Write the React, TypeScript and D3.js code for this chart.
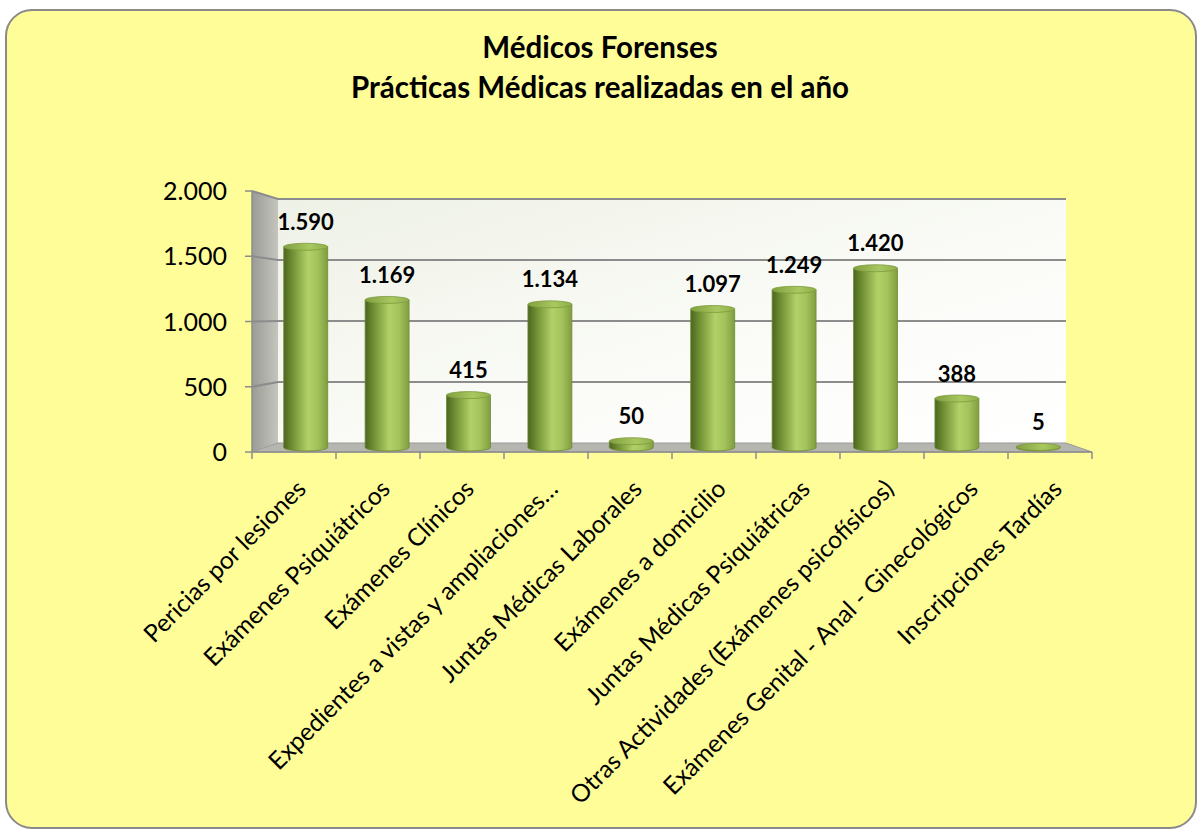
import React from "react";
import * as d3 from "d3";

// chart values
const categories = [
  "Pericias por lesiones",
  "Exámenes Psiquiátricos",
  "Exámenes Clínicos",
  "Expedientes a vistas y ampliaciones…",
  "Juntas Médicas Laborales",
  "Exámenes a domicilio",
  "Juntas Médicas Psiquiátricas",
  "Otras Actividades (Exámenes psicofísicos)",
  "Exámenes Genital - Anal - Ginecológicos",
  "Inscripciones Tardías",
];
const values = [1590, 1169, 415, 1134, 50, 1097, 1249, 1420, 388, 5];
const yTicks = [0, 500, 1000, 1500, 2000];
const titleLines = ["Médicos Forenses", "Prácticas Médicas realizadas en el año"];

const W = 1201;
const H = 830;
const FONT = "Lato, 'Open Sans', sans-serif";

const es = d3.formatLocale({ decimal: ",", thousands: ".", grouping: [3], currency: ["", ""] });
const fmt = es.format(",d");

// front plane and back plane of the 3d box
const front = { x0: 252, x1: 1092, yb: 452, yt: 191 };
const back = { x0: 278, x1: 1066, yb: 443, yt: 199 };
const plane = (t: number) => ({
  x0: front.x0 + (back.x0 - front.x0) * t,
  x1: front.x1 + (back.x1 - front.x1) * t,
  yb: front.yb + (back.yb - front.yb) * t,
  yt: front.yt + (back.yt - front.yt) * t,
});
const mid = plane(0.5);

const yFront = d3.scaleLinear().domain([0, 2000]).range([front.yb, front.yt]);
const yBack = d3.scaleLinear().domain([0, 2000]).range([back.yb, back.yt]);
const yMid = d3.scaleLinear().domain([0, 2000]).range([mid.yb, mid.yt]);
const xFront = d3.scaleBand<string>().domain(categories).range([front.x0, front.x1]);
const xMid = d3.scaleBand<string>().domain(categories).range([mid.x0, mid.x1]).paddingInner(0.46).paddingOuter(0.23);

const Bar = ({ cat, value }: { cat: string; value: number }) => {
  const x = xMid(cat) as number;
  const w = xMid.bandwidth();
  const cx = x + w / 2;
  const rx = w / 2;
  const ry = 3.5;
  const yb = yMid(0);
  const yt = yMid(value);
  return (
    <g>
      <path
        d={`M${x},${yt} L${x},${yb} A${rx},${ry} 0 0 0 ${x + w},${yb} L${x + w},${yt} Z`}
        fill="url(#cyl)"
        stroke="#6f8a35"
        strokeWidth={0.8}
      />
      <ellipse cx={cx} cy={yt} rx={rx} ry={ry} fill="url(#cylTop)" stroke="#7d9a3c" strokeWidth={0.8} />
      <text
        x={cx}
        y={yt - 17}
        textAnchor="middle"
        fontFamily={FONT}
        fontWeight={700}
        fontSize={22}
        fill="#000"
      >
        {fmt(value)}
      </text>
    </g>
  );
};

export default function App() {
  const sidePath = `M${front.x0},${front.yt} L${back.x0},${back.yt} L${back.x0},${back.yb} L${front.x0},${front.yb} Z`;
  const floorPath = `M${front.x0},${front.yb} L${back.x0},${back.yb} L${back.x1},${back.yb} L${front.x1},${front.yb} Z`;
  const xTickPos = categories.map((c) => xFront(c) as number).concat([front.x1]);

  return (
    <svg width={W} height={H} style={{ position: "absolute", left: 0, top: 0 }}>
      <defs>
        <linearGradient id="cyl" x1="0" x2="1" y1="0" y2="0">
          <stop offset="0%" stopColor="#4b6620" />
          <stop offset="18%" stopColor="#6d8c31" />
          <stop offset="55%" stopColor="#b2d168" />
          <stop offset="78%" stopColor="#a3c25b" />
          <stop offset="100%" stopColor="#7f9d3f" />
        </linearGradient>
        <linearGradient id="cylTop" x1="0" x2="1" y1="0" y2="0">
          <stop offset="0%" stopColor="#82a040" />
          <stop offset="60%" stopColor="#a8c860" />
          <stop offset="100%" stopColor="#8fae4a" />
        </linearGradient>
        <linearGradient id="wall" x1="0" x2="1" y1="0" y2="1">
          <stop offset="0%" stopColor="#eef1e6" />
          <stop offset="60%" stopColor="#fbfcf8" />
          <stop offset="100%" stopColor="#ffffff" />
        </linearGradient>
        <linearGradient id="side" x1="0" x2="1" y1="0" y2="0">
          <stop offset="0%" stopColor="#9a9b95" />
          <stop offset="100%" stopColor="#c4c5bd" />
        </linearGradient>
      </defs>

      <rect x={6} y={10} width={1190} height={818} rx={26} ry={26} fill="#fffd98" stroke="#8a8a8a" strokeWidth={2} />

      <g fontFamily={FONT} fontWeight={700} fontSize={29.5} textAnchor="middle" fill="#000">
        {titleLines.map((t, i) => (
          <text key={t} x={600} y={58 + i * 40}>
            {t}
          </text>
        ))}
      </g>

      {/* back wall, side wall, floor */}
      <rect x={back.x0} y={back.yt} width={back.x1 - back.x0} height={back.yb - back.yt} fill="url(#wall)" />
      <path d={sidePath} fill="url(#side)" />
      <path d={floorPath} fill="#b5b6b0" stroke="#9a9a96" strokeWidth={1} />

      {/* gridlines */}
      <g stroke="#8c8c8c" strokeWidth={2} fill="none">
        {yTicks.slice(1).map((v) => (
          <path key={v} d={`M${front.x0},${yFront(v)} L${back.x0},${yBack(v)} L${back.x1},${yBack(v)}`} />
        ))}
      </g>

      {/* axes */}
      <g stroke="#8c8c8c" strokeWidth={1.5}>
        <line x1={front.x0} x2={front.x0} y1={front.yt} y2={front.yb} />
        {yTicks.map((v) => (
          <line key={v} x1={front.x0 - 7} x2={front.x0} y1={yFront(v)} y2={yFront(v)} />
        ))}
        <line x1={front.x0} x2={front.x1} y1={front.yb} y2={front.yb} />
        {xTickPos.map((x, i) => (
          <line key={i} x1={x} x2={x} y1={front.yb} y2={front.yb + 7} />
        ))}
      </g>
      <g fontFamily={FONT} fontSize={25} textAnchor="end" fill="#000">
        {yTicks.map((v) => (
          <text key={v} x={227} y={yFront(v)} dy="0.36em">
            {fmt(v)}
          </text>
        ))}
      </g>

      {categories.map((c, i) => (
        <Bar key={c} cat={c} value={values[i]} />
      ))}

      <g fontFamily={FONT} fontSize={24.5} textAnchor="end" fill="#000">
        {categories.map((c) => {
          const cx = (xFront(c) as number) + xFront.bandwidth() / 2;
          return (
            <text key={c} transform={`translate(${cx + 1},${front.yb + 26}) rotate(-45)`} dy="0.72em">
              {c}
            </text>
          );
        })}
      </g>
    </svg>
  );
}
